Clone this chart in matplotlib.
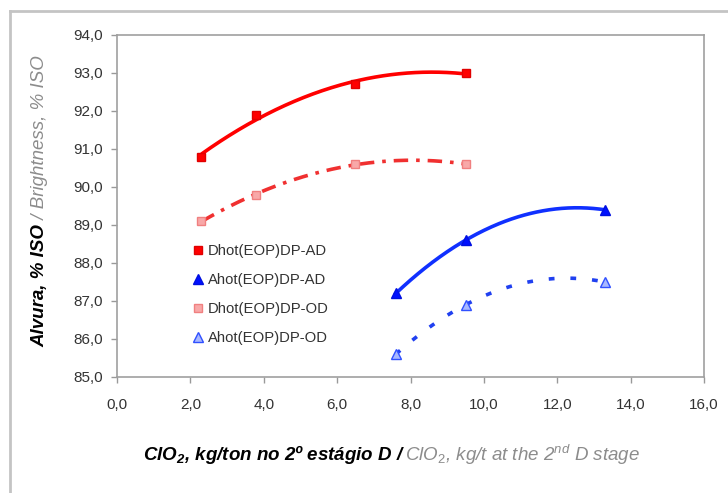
import numpy as np
import matplotlib
matplotlib.use("Agg")
import matplotlib.pyplot as plt
from matplotlib.lines import Line2D
from matplotlib.ticker import FuncFormatter

plt.rcParams["font.family"] = ["Liberation Sans", "DejaVu Sans"]
plt.rcParams["mathtext.fontset"] = "custom"
plt.rcParams["mathtext.rm"] = "Liberation Sans"
plt.rcParams["mathtext.it"] = "Liberation Sans:italic"
plt.rcParams["mathtext.bf"] = "Liberation Sans:bold:italic"

# ── dados ───────────────────────────────────────────────────────────────────────
x_dhot = [2.3, 3.8, 6.5, 9.5]
y_dhot_ad = [90.8, 91.9, 92.7, 93.0]
y_dhot_od = [89.1, 89.8, 90.6, 90.6]

x_ahot = [7.6, 9.5, 13.3]
y_ahot_ad = [87.2, 88.6, 89.4]
y_ahot_od = [85.6, 86.9, 87.5]

labels = ["Dhot(EOP)DP-AD", "Ahot(EOP)DP-AD", "Dhot(EOP)DP-OD", "Ahot(EOP)DP-OD"]

W, H = 728, 493
fig = plt.figure(figsize=(W / 100, H / 100), dpi=100)
ax = fig.add_axes([117 / W, 1 - 377 / H, (704 - 117) / W, (377 - 35) / H])

# moldura externa do gráfico
fig.add_artist(Line2D([10 / W, 1], [1 - 10.5 / H] * 2, color="#c4c4c4", lw=2,
                      transform=fig.transFigure))
fig.add_artist(Line2D([10 / W] * 2, [0, 1 - 10.5 / H], color="#c4c4c4", lw=2,
                      transform=fig.transFigure))


def trend(ax, xs, ys, **kw):
    # linha de tendência polinomial de 2ª ordem
    c = np.polyfit(xs, ys, 2)
    xx = np.linspace(min(xs), max(xs), 200)
    ax.plot(xx, np.polyval(c, xx), **kw)


trend(ax, x_dhot, y_dhot_ad, color="#ff0000", lw=2.6, solid_capstyle="butt")
trend(ax, x_dhot, y_dhot_od, color="#f03030", lw=2.6, ls=(0, (4, 2.2, 1, 2.2)))
trend(ax, x_ahot, y_ahot_ad, color="#1030ff", lw=2.6)
trend(ax, x_ahot, y_ahot_od, color="#2040f0", lw=2.6, ls=(0, (1.6, 4.4)))

ax.plot(x_dhot, y_dhot_ad, "s", color="#ff0000", ms=6, mec="#e00000", ls="none", label=labels[0])
ax.plot(x_ahot, y_ahot_ad, "^", color="#0010ff", ms=7, mec="#0010e0", ls="none", label=labels[1])
ax.plot(x_dhot, y_dhot_od, "s", color="#f8a8a8", ms=6, mec="#f08080", ls="none", label=labels[2])
ax.plot(x_ahot, y_ahot_od, "^", color="#a8b8ff", ms=7, mec="#3050ff", ls="none", label=labels[3])

ax.set_xlim(0, 16)
ax.set_ylim(85, 94)
ax.set_xticks(np.arange(0, 16.1, 2))
ax.set_yticks(np.arange(85, 94.1, 1))
fmt = FuncFormatter(lambda v, p: f"{v:.1f}".replace(".", ","))
ax.xaxis.set_major_formatter(fmt)
ax.yaxis.set_major_formatter(fmt)
ax.tick_params(direction="out", length=4, width=1, color="#999999",
               labelsize=11, labelcolor="#333333", pad=6)
ax.tick_params(axis="x", pad=11)
for s in ax.spines.values():
    s.set_color("#a0a0a0")
    s.set_linewidth(1.2)

leg = ax.legend(loc="upper left", bbox_to_anchor=(0.12, 0.405), frameon=False,
                fontsize=10.7, handlelength=0.6, handletextpad=0.4,
                labelspacing=1.0, borderaxespad=0)
for t in leg.get_texts():
    t.set_color("#333333")

# rótulos com duas cores (português / inglês)
fig.canvas.draw()
r = fig.canvas.get_renderer()


def multi_text(x, y, parts, rotation=0):
    for s, kw in parts:
        if rotation:
            t = fig.text(x, y, s, rotation=90, ha="center", va="bottom",
                         transform=None, fontsize=13.5, **kw)
            y = t.get_window_extent(r).y1
        else:
            t = fig.text(x, y, s, ha="left", va="center", transform=None,
                         fontsize=13.5, **kw)
            x = t.get_window_extent(r).x1


bi = dict(fontweight="bold", style="italic", color="black")
gi = dict(style="italic", color="#8c8c8c")
multi_text(143, H - 455, [
    ("ClO$_\\mathbf{2}$, kg/ton no 2º estágio D / ", bi),
    ("ClO$_2$, kg/t at the 2$^{nd}$ D stage", gi),
])
multi_text(40, H - 347, [
    ("Alvura, % ISO", bi),
    (" / Brightness, % ISO", gi),
], rotation=90)

fig.savefig("out.png", dpi=100)
